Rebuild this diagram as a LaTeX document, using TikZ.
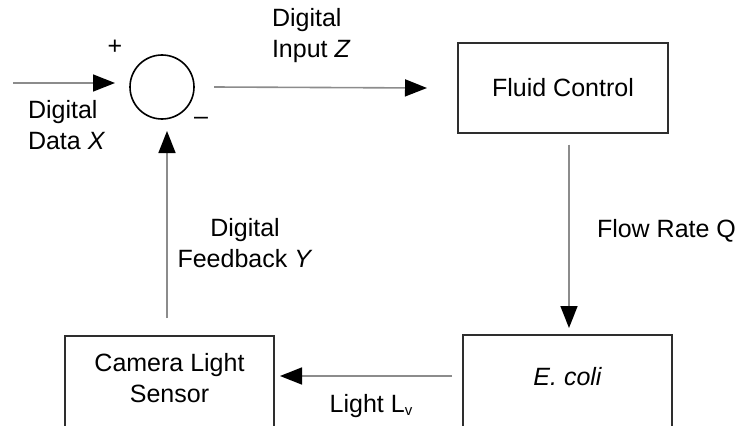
\documentclass[tikz,border=0pt]{standalone}
\usepackage{fontspec}
\setmainfont{Liberation Sans}
\usetikzlibrary{arrows.meta}
\definecolor{linegray}{HTML}{8C8C8C}
\definecolor{boxedge}{HTML}{2E2E2E}
\begin{document}
\begin{tikzpicture}[x=1pt,y=-1pt,
  every node/.style={font=\fontsize{25}{31}\selectfont, inner sep=0pt, outer sep=0pt},
  blockbox/.style={draw=boxedge, line width=2pt, rectangle, minimum width=210pt},
  sumjunction/.style={draw=black, line width=1.6pt, circle, minimum size=64pt},
  flow/.style={draw=linegray, line width=1.6pt,
    -{Triangle[length=22pt,width=17pt,color=black,fill=black]}},
  lbl/.style={align=center}
]
\clip (0,0) rectangle (743,425);

% summing junction with its signs
\node[sumjunction] (sum) at (162,87) {};
\node (plus) at (115,47) {+};
\node (minus) at (201,121) {–};

% blocks
\node[blockbox, minimum height=89pt] (fluid) at (563,88) {};
\node (fluidtxt) at (563,88) {Fluid Control};
\node[blockbox, minimum height=96pt, minimum width=209pt] (ecoli) at (567.5,383) {};
\node (ecolitxt) at (567.5,377) {\itshape E. coli};
\node[blockbox, minimum height=96pt, minimum width=209pt] (cam) at (169.5,384) {};
\node[lbl] (camtxt) at (169.5,378) {Camera Light\\Sensor};

% external input
\coordinate (xsrc) at (13,83);
\coordinate (xtip) at (115,83);
\draw[flow] (xsrc) -- (xtip);
\node[align=left, anchor=west] (xlbl) at (28,125) {Digital\\Data \textit{X}};

% forward path (shifts are in canvas units: positive yshift is upward)
\draw[flow] ([xshift=20pt]sum.east) -- ([xshift=-31pt]fluid.west);
\node[align=left, anchor=west] (zlbl) at (272,36) {Digital\\Input \textit{Z}};

\draw[flow] ([xshift=6pt,yshift=-12pt]fluid.south) -- ([xshift=1.5pt,yshift=7pt]ecoli.north);
\node[anchor=west] (qlbl) at (597,231) {Flow Rate Q};

\draw[flow] ([xshift=-11pt,yshift=7pt]ecoli.west) -- ([xshift=6pt,yshift=8pt]cam.east);
\node (lvlbl) at (371,406) {Light L\raisebox{-3pt}{\fontsize{15}{15}\selectfont v}};

% feedback path
\draw[flow] ([xshift=-2.5pt,yshift=18pt]cam.north) -- ([xshift=5pt,yshift=-12pt]sum.south);
\node[lbl] (ylbl) at (245,243) {Digital\\Feedback \textit{Y}};
\end{tikzpicture}
\end{document}
